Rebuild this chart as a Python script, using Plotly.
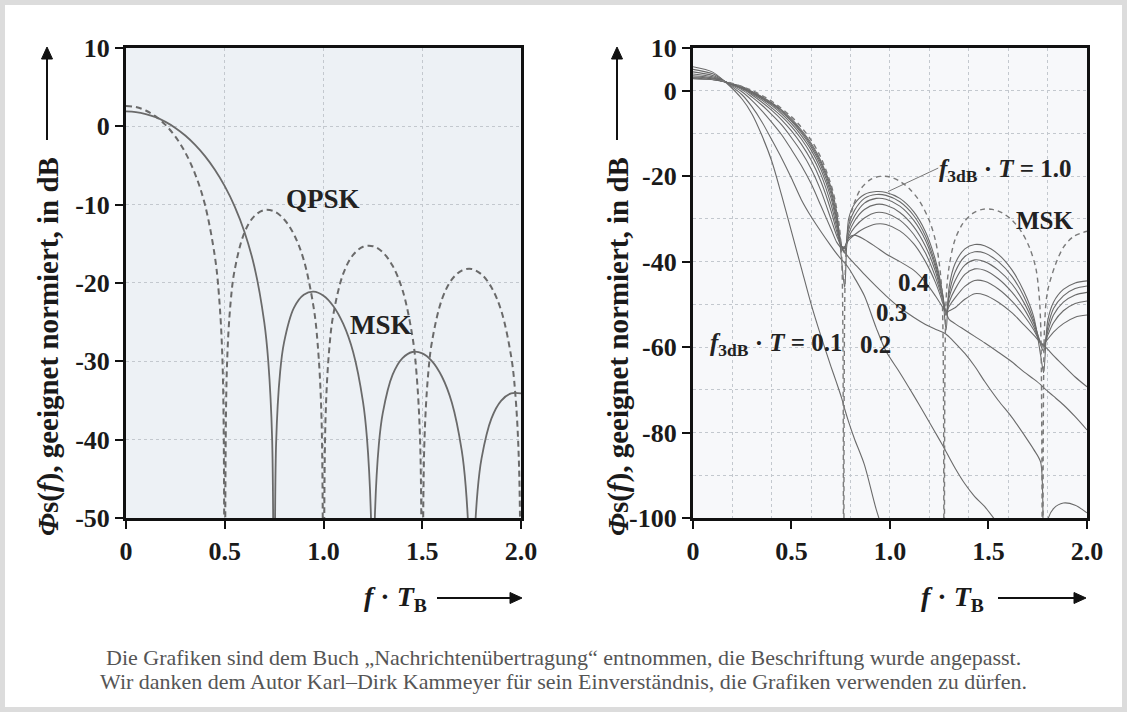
import plotly.graph_objects as go

# ---------------- left panel: QPSK vs MSK ----------------
f_qpsk = [0, 0.05, 0.1, 0.15, 0.2, 0.25, 0.3, 0.35, 0.4, 0.45,
          0.47, 0.49, 0.5, 0.51, 0.53, 0.55, 0.6, 0.65, 0.7, 0.75,
          0.8, 0.85, 0.9, 0.95, 0.97, 0.99, 1.0, 1.01, 1.03, 1.05,
          1.1, 1.15, 1.2, 1.25, 1.3, 1.35, 1.4, 1.45, 1.47, 1.49,
          1.5, 1.51, 1.53, 1.55, 1.6, 1.65, 1.7, 1.75, 1.8, 1.85,
          1.9, 1.95, 1.97, 1.99, 2.0]
qpsk_db = [2.6, 2.46, 2.02, 1.27, 0.18, -1.32, -3.34, -6.09, -10.02, -16.63,
           -21.35, -31.2, -80, -31.55, -22.39, -18.37, -13.54, -11.46, -10.70, -10.86,
           -11.86, -13.79, -17.06, -23.12, -27.64, -37.3, -80, -37.5, -28.16, -23.99,
           -18.81, -16.42, -15.38, -15.30, -16.08, -17.81, -20.90, -26.79, -31.25, -40.9,
           -80, -41.0, -31.6, -27.37, -22.06, -19.55, -18.41, -18.22, -18.90, -20.55,
           -23.55, -29.37, -33.8, -43.4, -80]

f_msk = [0, 0.05, 0.1, 0.15, 0.2, 0.25, 0.3, 0.35, 0.4, 0.45,
         0.5, 0.55, 0.6, 0.65, 0.7, 0.72, 0.74, 0.75, 0.76, 0.78,
         0.8, 0.85, 0.9, 0.95, 1.0, 1.05, 1.1, 1.15, 1.2, 1.22,
         1.24, 1.25, 1.26, 1.28, 1.3, 1.35, 1.4, 1.45, 1.5, 1.55,
         1.6, 1.65, 1.7, 1.72, 1.74, 1.75, 1.76, 1.78, 1.8, 1.85,
         1.9, 1.95, 2.0]
msk_db = [1.9, 1.82, 1.57, 1.17, 0.57, -0.2, -1.17, -2.36, -3.8, -5.54,
          -7.64, -10.22, -13.49, -17.92, -25.0, -29.9, -39.94, -80, -40.46, -31.47,
          -27.61, -23.18, -21.5, -21.1, -21.62, -22.96, -25.22, -28.8, -35.17, -39.8,
          -49.6, -80, -49.9, -40.68, -36.61, -31.71, -29.59, -28.81, -28.98, -30.0,
          -31.97, -35.29, -41.41, -45.96, -55.7, -80, -55.9, -46.57, -42.42, -37.32,
          -35.02, -34.08, -34.09]

# ---------------- right panel: GMSK for several f3dB*T ----------------
f_msk_r = [0, 0.1, 0.2, 0.25, 0.3, 0.4, 0.5, 0.55, 0.6, 0.65,
           0.7, 0.72, 0.74, 0.755, 0.765, 0.775, 0.79, 0.81, 0.85, 0.9,
           0.95, 1.0, 1.05, 1.1, 1.15, 1.2, 1.23, 1.25, 1.265, 1.275,
           1.285, 1.3, 1.33, 1.37, 1.42, 1.47, 1.52, 1.57, 1.62, 1.67,
           1.71, 1.74, 1.755, 1.765, 1.775, 1.785, 1.8, 1.84, 1.88, 1.93,
           2.0]
msk_r_db = [3.0, 2.69, 1.72, 0.97, 0.05, -2.47, -6.12, -8.55, -11.6, -15.7,
            -21.9, -25.4, -30.7, -39.0, -120, -39.5, -32.0, -27.5, -23.1, -20.8,
            -20.05, -20.2, -21.2, -23.0, -25.85, -30.45, -34.9, -40.4, -48.5, -120,
            -48.8, -41.2, -34.86, -31.07, -28.72, -27.76, -27.78, -28.61, -30.32, -33.2,
            -36.93, -41.46, -46.75, -54.9, -120, -54.8, -46.93, -40.7, -36.69, -34.19,
            -32.9]

f_gmsk = [0, 0.1, 0.17, 0.25, 0.3, 0.35, 0.4, 0.45, 0.5, 0.55,
          0.6, 0.65, 0.7, 0.73, 0.755, 0.77, 0.79, 0.82, 0.87, 0.93,
          0.98, 1.05, 1.12, 1.18, 1.23, 1.265, 1.285, 1.3, 1.33, 1.38,
          1.43, 1.48, 1.55, 1.62, 1.68, 1.73, 1.765, 1.78, 1.8, 1.83,
          1.88, 1.94, 2.0]
gmsk_bt = [1.0, 0.9, 0.8, 0.7, 0.6, 0.5, 0.4, 0.3, 0.2, 0.1]
bt10_db = [2.8, 2.6, 2.0, 0.9, -0.2, -1.4, -2.8, -4.5, -6.6, -9.2,
           -12.3, -16.5, -22.5, -28.5, -40, -46, -30, -26.5, -24.3, -23.6,
           -23.8, -25.2, -28.3, -33, -39.5, -47, -56, -46, -40.5, -37,
           -36, -36.3, -38.3, -42, -47, -53, -62, -66, -54, -49.5,
           -46.5, -45, -44.5]
bt09_db = [2.85, 2.65, 2.0, 0.85, -0.3, -1.5, -3.0, -4.7, -6.9, -9.5,
           -12.7, -17, -23.2, -29.5, -36.5, -38, -31.5, -28, -25.2, -24.3,
           -24.5, -26, -29.2, -34, -40.5, -47, -52.5, -47.5, -42.5, -38.8,
           -37.7, -38, -40, -43.5, -48.2, -53.8, -59.5, -61, -55.5, -51,
           -48, -46.3, -45.7]
bt08_db = [2.9, 2.7, 2.0, 0.8, -0.4, -1.7, -3.2, -5.0, -7.2, -9.9,
           -13.2, -17.6, -24, -30.3, -36.5, -37.5, -32.5, -29.3, -26.3, -25.2,
           -25.4, -27, -30.3, -35, -41.2, -47.5, -52, -48.5, -44.5, -40.8,
           -39.6, -40, -42, -45.3, -49.6, -54.5, -59, -60, -56.5, -52.5,
           -49.5, -47.8, -47.2]
bt07_db = [3.0, 2.75, 2.0, 0.7, -0.5, -1.9, -3.5, -5.4, -7.7, -10.5,
           -13.9, -18.5, -25, -31, -36.5, -37, -33.5, -30.5, -27.8, -26.6,
           -26.8, -28.5, -31.8, -36.4, -42.2, -48, -52, -49.5, -46.5, -43,
           -41.7, -42, -44, -47.2, -51, -55.3, -59, -59.5, -57.3, -54.3,
           -51.5, -49.8, -49.2]
bt06_db = [3.2, 2.85, 2.0, 0.6, -0.7, -2.2, -4.0, -6.0, -8.4, -11.3,
           -14.9, -19.7, -26.5, -32, -36.5, -36.8, -34.2, -32, -29.8, -28.5,
           -28.7, -30.3, -33.6, -38, -43.5, -48.5, -52, -50.5, -48.5, -45.8,
           -44.4, -44.6, -46.4, -49.3, -52.6, -56, -59, -59.3, -58.2, -56.5,
           -54.5, -53, -52.5]
bt05_db = [3.5, 3.0, 2.0, 0.45, -1.0, -2.7, -4.6, -6.8, -9.4, -12.5,
           -16.3, -21.3, -28, -33, -36.5, -36.6, -35, -33.7, -32.2, -31.2,
           -31.3, -32.8, -35.8, -40, -44.8, -49.2, -52, -51.5, -50.8, -48.8,
           -47.5, -47.8, -49.5, -52, -54.8, -57.2, -59, -59.6, -60.5, -62,
           -64.3, -67, -69.3]
bt04_db = [3.9, 3.25, 2.0, 0.2, -1.5, -3.4, -5.6, -8.0, -11, -14.3,
           -18.3, -23.5, -30, -34, -36.5, -36.5, -34.5, -33.8, -34.8, -36.6,
           -38.2, -40, -42, -44.8, -48, -50.5, -52, -53.5, -54.5, -56,
           -57.5, -59, -61.2, -63.5, -65.8, -67.5, -68.8, -69.5, -70.3, -71.5,
           -73.5, -76.3, -79.4]
bt03_db = [4.4, 3.55, 1.95, -0.3, -2.3, -4.7, -7.4, -10.3, -13.8, -17.5,
           -21.8, -27, -32.3, -35.5, -37, -37.8, -39, -40.5, -43, -45.8,
           -48, -50.8, -53, -54.7, -55.8, -56.5, -57, -57.6, -59, -61.5,
           -64.5, -68, -72.5, -76.5, -80.5, -84, -87, -108, -100.5, -97.8,
           -96.5, -97, -98.8]
bt02_db = [5.0, 3.95, 1.9, -1.0, -3.8, -7.3, -11.5, -15.8, -20.5, -25.5,
           -29.5, -33, -36.3, -38.2, -39.6, -40.3, -41.5, -43.8, -48, -55.5,
           -61, -66, -71.3, -76, -80, -82.8, -84.5, -85.8, -88.3, -92,
           -95, -97.3, -101.5, None, None, None, None, None, None, None,
           None, None, None]
bt01_db = [5.6, 4.35, 1.8, -2.0, -5.5, -10.5, -16.5, -24.5, -33, -41.5,
           -50, -57.5, -64.5, -68.5, -72, -74.5, -77.5, -81.5, -87.5, -98,
           -105, None, None, None, None, None, None, None, None, None,
           None, None, None, None, None, None, None, None, None, None,
           None, None, None]
gmsk_db = [bt10_db, bt09_db, bt08_db, bt07_db, bt06_db,
           bt05_db, bt04_db, bt03_db, bt02_db, bt01_db]

x_tickvals = [0, 0.5, 1.0, 1.5, 2.0]
x_ticktext = ['0', '0.5', '1.0', '1.5', '2.0']
yl_tickvals = [10, 0, -10, -20, -30, -40, -50]
yl_ticktext = ['10', '0', '-10', '-20', '-30', '-40', '-50']
yr_tickvals = [10, 0, -20, -40, -60, -80, -100]
yr_ticktext = ['10', '0', '-20', '-40', '-60', '-80', '-100']

SERIF = 'Liberation Serif, Times New Roman, serif'
INK = '#1a1a1a'
CURVE = '#6a6a6a'

fig = go.Figure()

fig.add_trace(go.Scatter(x=f_qpsk, y=qpsk_db, xaxis='x', yaxis='y', mode='lines',
                         line=dict(color=CURVE, width=2, dash='6px,4px', shape='spline', smoothing=1.0),
                         hoverinfo='skip'))
fig.add_trace(go.Scatter(x=f_msk, y=msk_db, xaxis='x', yaxis='y', mode='lines',
                         line=dict(color=CURVE, width=1.8, shape='spline', smoothing=1.0),
                         hoverinfo='skip'))

for bt, ys in zip(gmsk_bt, gmsk_db):
    fig.add_trace(go.Scatter(x=f_gmsk, y=ys, xaxis='x2', yaxis='y2', mode='lines',
                             name=f'{bt}', connectgaps=False,
                             line=dict(color=CURVE, width=1.1, shape='spline', smoothing=0.8),
                             hoverinfo='skip'))
fig.add_trace(go.Scatter(x=f_msk_r, y=msk_r_db, xaxis='x2', yaxis='y2', mode='lines',
                         line=dict(color='#7a7a7a', width=1.4, dash='5px,4px', shape='spline', smoothing=0.9),
                         hoverinfo='skip'))

tickfont = dict(family=SERIF, size=26, color=INK, weight='bold')
common_axis = dict(showline=True, linewidth=3, linecolor='#111', mirror=True,
                   ticks='outside', ticklen=8, tickwidth=2, tickcolor='#111',
                   zeroline=False, tickfont=tickfont, fixedrange=True, automargin=False)
grid = dict(gridcolor='#c3c8ce', griddash='dot', gridwidth=1)

YDOM = [0.2725, 0.9326]
fig.update_layout(
    width=1127, height=712,
    margin=dict(l=0, r=0, t=0, b=0, pad=0),
    paper_bgcolor='white', plot_bgcolor='rgba(0,0,0,0)',
    showlegend=False,
    xaxis=dict(domain=[0.1118, 0.4623], range=[0, 2], anchor='y',
               tickmode='array', tickvals=x_tickvals, ticktext=x_ticktext,
               showgrid=True, **grid, **common_axis),
    yaxis=dict(domain=YDOM, range=[-50, 10], anchor='x',
               tickmode='array', tickvals=yl_tickvals, ticktext=yl_ticktext,
               showgrid=True, **grid, **common_axis),
    xaxis2=dict(domain=[0.6149, 0.9645], range=[0, 2], anchor='y2',
                tickmode='array', tickvals=x_tickvals, ticktext=x_ticktext,
                showgrid=False,
                minor=dict(tickvals=[0.2, 0.4, 0.6, 0.8, 1.0, 1.2, 1.4, 1.6, 1.8],
                           showgrid=True, ticks='', **grid),
                **common_axis),
    yaxis2=dict(domain=YDOM, range=[-100, 10], anchor='x2',
                tickmode='array', tickvals=yr_tickvals, ticktext=yr_ticktext,
                showgrid=False,
                minor=dict(tickvals=[0, -10, -20, -30, -40, -50, -60, -70, -80, -90],
                           showgrid=True, ticks='', **grid),
                **common_axis),
)

W, H = 1127.0, 712.0
def px(xp):
    return xp / W
def py(yp):
    return 1 - yp / H

shapes = [
    dict(type='rect', xref='x domain', yref='y domain', x0=0, x1=1, y0=0, y1=1,
         fillcolor='#edf1f5', line=dict(width=0), layer='below'),
    dict(type='rect', xref='x2 domain', yref='y2 domain', x0=0, x1=1, y0=0, y1=1,
         fillcolor='#f7f8fa', line=dict(width=0), layer='below'),
    dict(type='rect', xref='paper', yref='paper', x0=0, x1=1, y0=0, y1=1,
         fillcolor='rgba(0,0,0,0)', line=dict(color='#dcdcdc', width=10)),
]

ARROW = '#111'
def up_arrow(xc, y_tail, y_head):
    shapes.append(dict(type='line', xref='paper', yref='paper',
                       x0=px(xc), x1=px(xc), y0=py(y_tail), y1=py(y_head + 10),
                       line=dict(color=ARROW, width=2)))
    shapes.append(dict(type='path', xref='paper', yref='paper', fillcolor=ARROW,
                       line=dict(color=ARROW, width=1),
                       path=f'M {px(xc-5.5)},{py(y_head+12)} L {px(xc+5.5)},{py(y_head+12)} '
                            f'L {px(xc)},{py(y_head)} Z'))

def right_arrow(yc, x_tail, x_head):
    shapes.append(dict(type='line', xref='paper', yref='paper',
                       x0=px(x_tail), x1=px(x_head - 10), y0=py(yc), y1=py(yc),
                       line=dict(color=ARROW, width=2)))
    shapes.append(dict(type='path', xref='paper', yref='paper', fillcolor=ARROW,
                       line=dict(color=ARROW, width=1),
                       path=f'M {px(x_head-12)},{py(yc-5.5)} L {px(x_head-12)},{py(yc+5.5)} '
                            f'L {px(x_head)},{py(yc)} Z'))

up_arrow(47, 140, 47)
up_arrow(617, 140, 47)
right_arrow(598, 437, 522)
right_arrow(598, 998, 1086)

# leader line from the "f3dB*T = 1.0" label to its curve
shapes.append(dict(type='line', xref='x2', yref='y2', x0=0.99, y0=-23.6, x1=1.245, y1=-18.1,
                   line=dict(color='#777', width=1)))

fig.update_layout(shapes=shapes)

ann = []
title_font = dict(family=SERIF, size=29, color=INK, weight='bold')
ytitle = '<i>Φ</i>s(<i>f</i>), geeignet normiert, in dB'
for xc in (48, 618):
    ann.append(dict(xref='paper', yref='paper', x=px(xc), y=py(347), text=ytitle,
                    textangle=-90, showarrow=False, font=title_font,
                    xanchor='center', yanchor='middle'))

xtitle_font = dict(family=SERIF, size=28, color=INK, weight='bold')
xtitle = '<i>f</i> · <i>T</i><sub>B</sub>'
for xc in (395, 952):
    ann.append(dict(xref='paper', yref='paper', x=px(xc), y=py(598), text=xtitle,
                    showarrow=False, font=xtitle_font, xanchor='center', yanchor='middle'))

lab_font = dict(family=SERIF, size=27, color='#222', weight='bold')
ann.append(dict(xref='x', yref='y', x=0.995, y=-9.3, text='QPSK', showarrow=False, font=lab_font))
ann.append(dict(xref='x', yref='y', x=1.29, y=-25.4, text='MSK', showarrow=False, font=lab_font))

lab_font_r = dict(family=SERIF, size=25, color='#222', weight='bold')
ann.append(dict(xref='x2', yref='y2', x=1.588, y=-18.6,
                text='<i>f</i><sub>3dB</sub> · <i>T</i> = 1.0', showarrow=False, font=lab_font_r))
ann.append(dict(xref='x2', yref='y2', x=1.786, y=-30.3, text='MSK', showarrow=False, font=lab_font_r))
ann.append(dict(xref='x2', yref='y2', x=1.12, y=-44.8, text='0.4', showarrow=False, font=lab_font_r))
ann.append(dict(xref='x2', yref='y2', x=1.008, y=-52.0, text='0.3', showarrow=False, font=lab_font_r))
ann.append(dict(xref='x2', yref='y2', x=0.926, y=-59.3, text='0.2', showarrow=False, font=lab_font_r))
ann.append(dict(xref='x2', yref='y2', x=0.422, y=-59.5,
                text='<i>f</i><sub>3dB</sub> · <i>T</i> = 0.1', showarrow=False, font=lab_font_r))

cap_font = dict(family=SERIF, size=22, color='#555')
ann.append(dict(xref='paper', yref='paper', x=px(563), y=py(672), showarrow=False, font=cap_font,
                text='Die Grafiken sind dem Buch „Nachrichtenübertragung“ entnommen, die Beschriftung wurde angepasst.'))
ann.append(dict(xref='paper', yref='paper', x=px(563), y=py(696), showarrow=False, font=cap_font,
                text='Wir danken dem Autor Karl–Dirk Kammeyer für sein Einverständnis, die Grafiken verwenden zu dürfen.'))

fig.update_layout(annotations=ann)
fig.write_html('out.html', config={'displayModeBar': False},
               post_script="document.body.style.margin='0';document.body.style.overflow='hidden';")
